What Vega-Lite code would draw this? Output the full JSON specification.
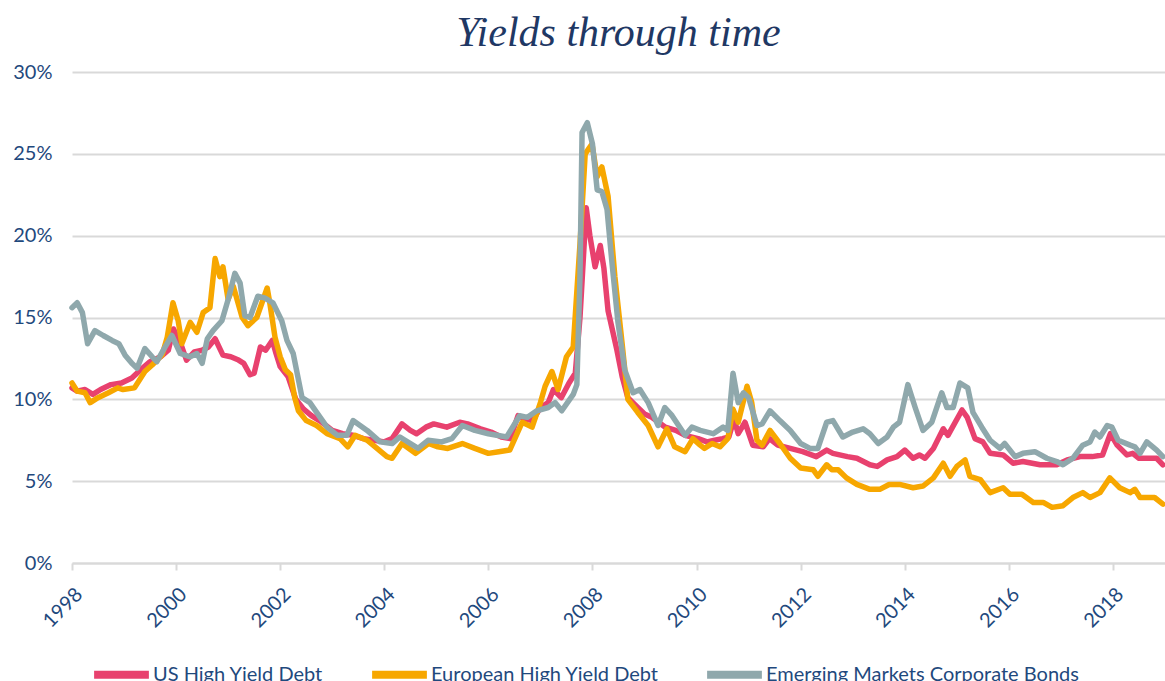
{
  "$schema": "https://vega.github.io/schema/vega-lite/v6.json",
  "width": 1093,
  "height": 491,
  "autosize": {"type": "none"},
  "padding": {"left": 72, "top": 72, "right": 0, "bottom": 118},
  "background": "white",
  "title": {"text": "Yields through time", "font": "Liberation Serif", "fontStyle": "italic", "fontSize": 42, "fontWeight": "normal", "color": "#1F3864", "anchor": "middle", "offset": 7},
  "config": {"view": {"stroke": null}, "font": "Lato"},
  "data": {"values": [
    {"date": 1998.0, "series": "US High Yield Debt", "yield": 10.7},
    {"date": 1998.1, "series": "US High Yield Debt", "yield": 10.5},
    {"date": 1998.25, "series": "US High Yield Debt", "yield": 10.6},
    {"date": 1998.4, "series": "US High Yield Debt", "yield": 10.3},
    {"date": 1998.55, "series": "US High Yield Debt", "yield": 10.6},
    {"date": 1998.75, "series": "US High Yield Debt", "yield": 10.9},
    {"date": 1998.95, "series": "US High Yield Debt", "yield": 11.0},
    {"date": 1999.15, "series": "US High Yield Debt", "yield": 11.3},
    {"date": 1999.35, "series": "US High Yield Debt", "yield": 11.9},
    {"date": 1999.5, "series": "US High Yield Debt", "yield": 12.3},
    {"date": 1999.7, "series": "US High Yield Debt", "yield": 12.6},
    {"date": 1999.85, "series": "US High Yield Debt", "yield": 13.0},
    {"date": 1999.95, "series": "US High Yield Debt", "yield": 14.3},
    {"date": 2000.1, "series": "US High Yield Debt", "yield": 13.3},
    {"date": 2000.2, "series": "US High Yield Debt", "yield": 12.4},
    {"date": 2000.35, "series": "US High Yield Debt", "yield": 12.9},
    {"date": 2000.5, "series": "US High Yield Debt", "yield": 13.0},
    {"date": 2000.62, "series": "US High Yield Debt", "yield": 13.2},
    {"date": 2000.75, "series": "US High Yield Debt", "yield": 13.7},
    {"date": 2000.9, "series": "US High Yield Debt", "yield": 12.7},
    {"date": 2001.05, "series": "US High Yield Debt", "yield": 12.6},
    {"date": 2001.2, "series": "US High Yield Debt", "yield": 12.4},
    {"date": 2001.3, "series": "US High Yield Debt", "yield": 12.2},
    {"date": 2001.42, "series": "US High Yield Debt", "yield": 11.5},
    {"date": 2001.5, "series": "US High Yield Debt", "yield": 11.6},
    {"date": 2001.62, "series": "US High Yield Debt", "yield": 13.2},
    {"date": 2001.72, "series": "US High Yield Debt", "yield": 13.0},
    {"date": 2001.85, "series": "US High Yield Debt", "yield": 13.6},
    {"date": 2001.92, "series": "US High Yield Debt", "yield": 12.8},
    {"date": 2002.0, "series": "US High Yield Debt", "yield": 12.0},
    {"date": 2002.15, "series": "US High Yield Debt", "yield": 11.4},
    {"date": 2002.3, "series": "US High Yield Debt", "yield": 10.0},
    {"date": 2002.45, "series": "US High Yield Debt", "yield": 9.4},
    {"date": 2002.6, "series": "US High Yield Debt", "yield": 9.0},
    {"date": 2002.8, "series": "US High Yield Debt", "yield": 8.6},
    {"date": 2003.0, "series": "US High Yield Debt", "yield": 8.1},
    {"date": 2003.2, "series": "US High Yield Debt", "yield": 7.9},
    {"date": 2003.4, "series": "US High Yield Debt", "yield": 7.8},
    {"date": 2003.6, "series": "US High Yield Debt", "yield": 7.6},
    {"date": 2003.8, "series": "US High Yield Debt", "yield": 7.5},
    {"date": 2004.0, "series": "US High Yield Debt", "yield": 7.4},
    {"date": 2004.15, "series": "US High Yield Debt", "yield": 7.6},
    {"date": 2004.34, "series": "US High Yield Debt", "yield": 8.5},
    {"date": 2004.5, "series": "US High Yield Debt", "yield": 8.1},
    {"date": 2004.62, "series": "US High Yield Debt", "yield": 7.9},
    {"date": 2004.8, "series": "US High Yield Debt", "yield": 8.3},
    {"date": 2004.95, "series": "US High Yield Debt", "yield": 8.5},
    {"date": 2005.2, "series": "US High Yield Debt", "yield": 8.3},
    {"date": 2005.45, "series": "US High Yield Debt", "yield": 8.6},
    {"date": 2005.6, "series": "US High Yield Debt", "yield": 8.5},
    {"date": 2005.85, "series": "US High Yield Debt", "yield": 8.2},
    {"date": 2006.05, "series": "US High Yield Debt", "yield": 8.0},
    {"date": 2006.25, "series": "US High Yield Debt", "yield": 7.7},
    {"date": 2006.42, "series": "US High Yield Debt", "yield": 7.6},
    {"date": 2006.57, "series": "US High Yield Debt", "yield": 9.0},
    {"date": 2006.7, "series": "US High Yield Debt", "yield": 8.8},
    {"date": 2006.85, "series": "US High Yield Debt", "yield": 8.7},
    {"date": 2007.0, "series": "US High Yield Debt", "yield": 9.5},
    {"date": 2007.15, "series": "US High Yield Debt", "yield": 9.8},
    {"date": 2007.25, "series": "US High Yield Debt", "yield": 10.6},
    {"date": 2007.4, "series": "US High Yield Debt", "yield": 10.1},
    {"date": 2007.55, "series": "US High Yield Debt", "yield": 11.0},
    {"date": 2007.67, "series": "US High Yield Debt", "yield": 11.6},
    {"date": 2007.76, "series": "US High Yield Debt", "yield": 15.0},
    {"date": 2007.88, "series": "US High Yield Debt", "yield": 21.7},
    {"date": 2007.95, "series": "US High Yield Debt", "yield": 20.0},
    {"date": 2008.05, "series": "US High Yield Debt", "yield": 18.1},
    {"date": 2008.15, "series": "US High Yield Debt", "yield": 19.4},
    {"date": 2008.22, "series": "US High Yield Debt", "yield": 18.0},
    {"date": 2008.3, "series": "US High Yield Debt", "yield": 15.4},
    {"date": 2008.4, "series": "US High Yield Debt", "yield": 14.0},
    {"date": 2008.47, "series": "US High Yield Debt", "yield": 13.0},
    {"date": 2008.57, "series": "US High Yield Debt", "yield": 11.4},
    {"date": 2008.68, "series": "US High Yield Debt", "yield": 10.1},
    {"date": 2008.87, "series": "US High Yield Debt", "yield": 9.5},
    {"date": 2009.0, "series": "US High Yield Debt", "yield": 9.1},
    {"date": 2009.14, "series": "US High Yield Debt", "yield": 8.9},
    {"date": 2009.4, "series": "US High Yield Debt", "yield": 8.3},
    {"date": 2009.6, "series": "US High Yield Debt", "yield": 8.1},
    {"date": 2009.78, "series": "US High Yield Debt", "yield": 7.8},
    {"date": 2010.03, "series": "US High Yield Debt", "yield": 7.6},
    {"date": 2010.2, "series": "US High Yield Debt", "yield": 7.4},
    {"date": 2010.35, "series": "US High Yield Debt", "yield": 7.5},
    {"date": 2010.5, "series": "US High Yield Debt", "yield": 7.6},
    {"date": 2010.62, "series": "US High Yield Debt", "yield": 7.7},
    {"date": 2010.72, "series": "US High Yield Debt", "yield": 8.8},
    {"date": 2010.8, "series": "US High Yield Debt", "yield": 7.9},
    {"date": 2010.93, "series": "US High Yield Debt", "yield": 8.6},
    {"date": 2011.08, "series": "US High Yield Debt", "yield": 7.2},
    {"date": 2011.28, "series": "US High Yield Debt", "yield": 7.1},
    {"date": 2011.4, "series": "US High Yield Debt", "yield": 7.6},
    {"date": 2011.56, "series": "US High Yield Debt", "yield": 7.2},
    {"date": 2011.8, "series": "US High Yield Debt", "yield": 7.0},
    {"date": 2012.04, "series": "US High Yield Debt", "yield": 6.8},
    {"date": 2012.3, "series": "US High Yield Debt", "yield": 6.5},
    {"date": 2012.5, "series": "US High Yield Debt", "yield": 6.9},
    {"date": 2012.62, "series": "US High Yield Debt", "yield": 6.7},
    {"date": 2012.9, "series": "US High Yield Debt", "yield": 6.5},
    {"date": 2013.08, "series": "US High Yield Debt", "yield": 6.4},
    {"date": 2013.33, "series": "US High Yield Debt", "yield": 6.0},
    {"date": 2013.47, "series": "US High Yield Debt", "yield": 5.9},
    {"date": 2013.66, "series": "US High Yield Debt", "yield": 6.3},
    {"date": 2013.85, "series": "US High Yield Debt", "yield": 6.5},
    {"date": 2014.0, "series": "US High Yield Debt", "yield": 6.9},
    {"date": 2014.16, "series": "US High Yield Debt", "yield": 6.4},
    {"date": 2014.28, "series": "US High Yield Debt", "yield": 6.6},
    {"date": 2014.39, "series": "US High Yield Debt", "yield": 6.4},
    {"date": 2014.55, "series": "US High Yield Debt", "yield": 7.0},
    {"date": 2014.74, "series": "US High Yield Debt", "yield": 8.2},
    {"date": 2014.83, "series": "US High Yield Debt", "yield": 7.8},
    {"date": 2015.1, "series": "US High Yield Debt", "yield": 9.35},
    {"date": 2015.2, "series": "US High Yield Debt", "yield": 8.9},
    {"date": 2015.35, "series": "US High Yield Debt", "yield": 7.6},
    {"date": 2015.5, "series": "US High Yield Debt", "yield": 7.4},
    {"date": 2015.64, "series": "US High Yield Debt", "yield": 6.7},
    {"date": 2015.89, "series": "US High Yield Debt", "yield": 6.6},
    {"date": 2016.08, "series": "US High Yield Debt", "yield": 6.1},
    {"date": 2016.27, "series": "US High Yield Debt", "yield": 6.2},
    {"date": 2016.6, "series": "US High Yield Debt", "yield": 6.0},
    {"date": 2016.92, "series": "US High Yield Debt", "yield": 6.0},
    {"date": 2017.12, "series": "US High Yield Debt", "yield": 6.3},
    {"date": 2017.37, "series": "US High Yield Debt", "yield": 6.5},
    {"date": 2017.6, "series": "US High Yield Debt", "yield": 6.5},
    {"date": 2017.8, "series": "US High Yield Debt", "yield": 6.6},
    {"date": 2017.95, "series": "US High Yield Debt", "yield": 7.9},
    {"date": 2018.08, "series": "US High Yield Debt", "yield": 7.2},
    {"date": 2018.27, "series": "US High Yield Debt", "yield": 6.6},
    {"date": 2018.38, "series": "US High Yield Debt", "yield": 6.7},
    {"date": 2018.5, "series": "US High Yield Debt", "yield": 6.4},
    {"date": 2018.84, "series": "US High Yield Debt", "yield": 6.4},
    {"date": 2018.96, "series": "US High Yield Debt", "yield": 6.0},

    {"date": 1998.0, "series": "European High Yield Debt", "yield": 11.0},
    {"date": 1998.1, "series": "European High Yield Debt", "yield": 10.5},
    {"date": 1998.25, "series": "European High Yield Debt", "yield": 10.4},
    {"date": 1998.35, "series": "European High Yield Debt", "yield": 9.8},
    {"date": 1998.5, "series": "European High Yield Debt", "yield": 10.1},
    {"date": 1998.7, "series": "European High Yield Debt", "yield": 10.4},
    {"date": 1998.88, "series": "European High Yield Debt", "yield": 10.7},
    {"date": 1998.98, "series": "European High Yield Debt", "yield": 10.6},
    {"date": 1999.2, "series": "European High Yield Debt", "yield": 10.7},
    {"date": 1999.4, "series": "European High Yield Debt", "yield": 11.7},
    {"date": 1999.54, "series": "European High Yield Debt", "yield": 12.1},
    {"date": 1999.73, "series": "European High Yield Debt", "yield": 12.7},
    {"date": 1999.83, "series": "European High Yield Debt", "yield": 13.8},
    {"date": 1999.94, "series": "European High Yield Debt", "yield": 15.9},
    {"date": 2000.04, "series": "European High Yield Debt", "yield": 14.8},
    {"date": 2000.11, "series": "European High Yield Debt", "yield": 13.4},
    {"date": 2000.27, "series": "European High Yield Debt", "yield": 14.7},
    {"date": 2000.4, "series": "European High Yield Debt", "yield": 14.1},
    {"date": 2000.52, "series": "European High Yield Debt", "yield": 15.3},
    {"date": 2000.65, "series": "European High Yield Debt", "yield": 15.6},
    {"date": 2000.75, "series": "European High Yield Debt", "yield": 18.6},
    {"date": 2000.84, "series": "European High Yield Debt", "yield": 17.5},
    {"date": 2000.9, "series": "European High Yield Debt", "yield": 18.1},
    {"date": 2001.0, "series": "European High Yield Debt", "yield": 16.1},
    {"date": 2001.1, "series": "European High Yield Debt", "yield": 16.9},
    {"date": 2001.27, "series": "European High Yield Debt", "yield": 15.0},
    {"date": 2001.38, "series": "European High Yield Debt", "yield": 14.5},
    {"date": 2001.55, "series": "European High Yield Debt", "yield": 15.0},
    {"date": 2001.65, "series": "European High Yield Debt", "yield": 15.9},
    {"date": 2001.75, "series": "European High Yield Debt", "yield": 16.8},
    {"date": 2001.8, "series": "European High Yield Debt", "yield": 15.9},
    {"date": 2001.9, "series": "European High Yield Debt", "yield": 13.8},
    {"date": 2002.0, "series": "European High Yield Debt", "yield": 12.6},
    {"date": 2002.1, "series": "European High Yield Debt", "yield": 11.8},
    {"date": 2002.2, "series": "European High Yield Debt", "yield": 11.5},
    {"date": 2002.28, "series": "European High Yield Debt", "yield": 10.1},
    {"date": 2002.35, "series": "European High Yield Debt", "yield": 9.3},
    {"date": 2002.5, "series": "European High Yield Debt", "yield": 8.7},
    {"date": 2002.7, "series": "European High Yield Debt", "yield": 8.4},
    {"date": 2002.9, "series": "European High Yield Debt", "yield": 7.9},
    {"date": 2003.15, "series": "European High Yield Debt", "yield": 7.6},
    {"date": 2003.3, "series": "European High Yield Debt", "yield": 7.1},
    {"date": 2003.44, "series": "European High Yield Debt", "yield": 7.8},
    {"date": 2003.67, "series": "European High Yield Debt", "yield": 7.5},
    {"date": 2003.86, "series": "European High Yield Debt", "yield": 7.0},
    {"date": 2004.05, "series": "European High Yield Debt", "yield": 6.5},
    {"date": 2004.15, "series": "European High Yield Debt", "yield": 6.4},
    {"date": 2004.34, "series": "European High Yield Debt", "yield": 7.3},
    {"date": 2004.6, "series": "European High Yield Debt", "yield": 6.7},
    {"date": 2004.85, "series": "European High Yield Debt", "yield": 7.3},
    {"date": 2005.03, "series": "European High Yield Debt", "yield": 7.1},
    {"date": 2005.22, "series": "European High Yield Debt", "yield": 7.0},
    {"date": 2005.5, "series": "European High Yield Debt", "yield": 7.3},
    {"date": 2005.74, "series": "European High Yield Debt", "yield": 7.0},
    {"date": 2006.0, "series": "European High Yield Debt", "yield": 6.7},
    {"date": 2006.2, "series": "European High Yield Debt", "yield": 6.8},
    {"date": 2006.41, "series": "European High Yield Debt", "yield": 6.9},
    {"date": 2006.65, "series": "European High Yield Debt", "yield": 8.6},
    {"date": 2006.84, "series": "European High Yield Debt", "yield": 8.3},
    {"date": 2007.0, "series": "European High Yield Debt", "yield": 9.8},
    {"date": 2007.09, "series": "European High Yield Debt", "yield": 10.8},
    {"date": 2007.22, "series": "European High Yield Debt", "yield": 11.7},
    {"date": 2007.34, "series": "European High Yield Debt", "yield": 10.6},
    {"date": 2007.5, "series": "European High Yield Debt", "yield": 12.6},
    {"date": 2007.63, "series": "European High Yield Debt", "yield": 13.2},
    {"date": 2007.76, "series": "European High Yield Debt", "yield": 19.5},
    {"date": 2007.86, "series": "European High Yield Debt", "yield": 25.0},
    {"date": 2007.99, "series": "European High Yield Debt", "yield": 25.6},
    {"date": 2008.09, "series": "European High Yield Debt", "yield": 23.6},
    {"date": 2008.18, "series": "European High Yield Debt", "yield": 24.2},
    {"date": 2008.3, "series": "European High Yield Debt", "yield": 22.4},
    {"date": 2008.43, "series": "European High Yield Debt", "yield": 17.5},
    {"date": 2008.57, "series": "European High Yield Debt", "yield": 13.4},
    {"date": 2008.68, "series": "European High Yield Debt", "yield": 10.0},
    {"date": 2008.87, "series": "European High Yield Debt", "yield": 9.2},
    {"date": 2009.07, "series": "European High Yield Debt", "yield": 8.4},
    {"date": 2009.26, "series": "European High Yield Debt", "yield": 7.1},
    {"date": 2009.43, "series": "European High Yield Debt", "yield": 8.2},
    {"date": 2009.58, "series": "European High Yield Debt", "yield": 7.1},
    {"date": 2009.78, "series": "European High Yield Debt", "yield": 6.8},
    {"date": 2009.93, "series": "European High Yield Debt", "yield": 7.6},
    {"date": 2010.07, "series": "European High Yield Debt", "yield": 7.2},
    {"date": 2010.15, "series": "European High Yield Debt", "yield": 7.0},
    {"date": 2010.3, "series": "European High Yield Debt", "yield": 7.3},
    {"date": 2010.45, "series": "European High Yield Debt", "yield": 7.1},
    {"date": 2010.6, "series": "European High Yield Debt", "yield": 7.6},
    {"date": 2010.7, "series": "European High Yield Debt", "yield": 9.4},
    {"date": 2010.8, "series": "European High Yield Debt", "yield": 8.6},
    {"date": 2010.97, "series": "European High Yield Debt", "yield": 10.8},
    {"date": 2011.06, "series": "European High Yield Debt", "yield": 9.8},
    {"date": 2011.16, "series": "European High Yield Debt", "yield": 7.5},
    {"date": 2011.26, "series": "European High Yield Debt", "yield": 7.2},
    {"date": 2011.41, "series": "European High Yield Debt", "yield": 8.1},
    {"date": 2011.6, "series": "European High Yield Debt", "yield": 7.3},
    {"date": 2011.8, "series": "European High Yield Debt", "yield": 6.4},
    {"date": 2012.0, "series": "European High Yield Debt", "yield": 5.8},
    {"date": 2012.24, "series": "European High Yield Debt", "yield": 5.7},
    {"date": 2012.33, "series": "European High Yield Debt", "yield": 5.3},
    {"date": 2012.5, "series": "European High Yield Debt", "yield": 6.0},
    {"date": 2012.6, "series": "European High Yield Debt", "yield": 5.7},
    {"date": 2012.72, "series": "European High Yield Debt", "yield": 5.7},
    {"date": 2012.88, "series": "European High Yield Debt", "yield": 5.2},
    {"date": 2013.08, "series": "European High Yield Debt", "yield": 4.8},
    {"date": 2013.33, "series": "European High Yield Debt", "yield": 4.5},
    {"date": 2013.52, "series": "European High Yield Debt", "yield": 4.5},
    {"date": 2013.7, "series": "European High Yield Debt", "yield": 4.8},
    {"date": 2013.9, "series": "European High Yield Debt", "yield": 4.8},
    {"date": 2014.16, "series": "European High Yield Debt", "yield": 4.6},
    {"date": 2014.35, "series": "European High Yield Debt", "yield": 4.7},
    {"date": 2014.55, "series": "European High Yield Debt", "yield": 5.2},
    {"date": 2014.74, "series": "European High Yield Debt", "yield": 6.1},
    {"date": 2014.87, "series": "European High Yield Debt", "yield": 5.3},
    {"date": 2015.0, "series": "European High Yield Debt", "yield": 5.9},
    {"date": 2015.16, "series": "European High Yield Debt", "yield": 6.3},
    {"date": 2015.25, "series": "European High Yield Debt", "yield": 5.3},
    {"date": 2015.45, "series": "European High Yield Debt", "yield": 5.1},
    {"date": 2015.64, "series": "European High Yield Debt", "yield": 4.3},
    {"date": 2015.89, "series": "European High Yield Debt", "yield": 4.6},
    {"date": 2016.02, "series": "European High Yield Debt", "yield": 4.2},
    {"date": 2016.25, "series": "European High Yield Debt", "yield": 4.2},
    {"date": 2016.47, "series": "European High Yield Debt", "yield": 3.7},
    {"date": 2016.66, "series": "European High Yield Debt", "yield": 3.7},
    {"date": 2016.83, "series": "European High Yield Debt", "yield": 3.4},
    {"date": 2017.04, "series": "European High Yield Debt", "yield": 3.5},
    {"date": 2017.23, "series": "European High Yield Debt", "yield": 4.0},
    {"date": 2017.42, "series": "European High Yield Debt", "yield": 4.3},
    {"date": 2017.56, "series": "European High Yield Debt", "yield": 4.0},
    {"date": 2017.75, "series": "European High Yield Debt", "yield": 4.3},
    {"date": 2017.94, "series": "European High Yield Debt", "yield": 5.2},
    {"date": 2018.13, "series": "European High Yield Debt", "yield": 4.6},
    {"date": 2018.33, "series": "European High Yield Debt", "yield": 4.3},
    {"date": 2018.42, "series": "European High Yield Debt", "yield": 4.5},
    {"date": 2018.52, "series": "European High Yield Debt", "yield": 4.0},
    {"date": 2018.8, "series": "European High Yield Debt", "yield": 4.0},
    {"date": 2018.96, "series": "European High Yield Debt", "yield": 3.6},

    {"date": 1998.0, "series": "Emerging Markets Corporate Bonds", "yield": 15.6},
    {"date": 1998.1, "series": "Emerging Markets Corporate Bonds", "yield": 15.9},
    {"date": 1998.2, "series": "Emerging Markets Corporate Bonds", "yield": 15.3},
    {"date": 1998.3, "series": "Emerging Markets Corporate Bonds", "yield": 13.4},
    {"date": 1998.44, "series": "Emerging Markets Corporate Bonds", "yield": 14.2},
    {"date": 1998.6, "series": "Emerging Markets Corporate Bonds", "yield": 13.9},
    {"date": 1998.77, "series": "Emerging Markets Corporate Bonds", "yield": 13.6},
    {"date": 1998.9, "series": "Emerging Markets Corporate Bonds", "yield": 13.4},
    {"date": 1999.02, "series": "Emerging Markets Corporate Bonds", "yield": 12.7},
    {"date": 1999.15, "series": "Emerging Markets Corporate Bonds", "yield": 12.2},
    {"date": 1999.25, "series": "Emerging Markets Corporate Bonds", "yield": 11.9},
    {"date": 1999.4, "series": "Emerging Markets Corporate Bonds", "yield": 13.1},
    {"date": 1999.54, "series": "Emerging Markets Corporate Bonds", "yield": 12.6},
    {"date": 1999.63, "series": "Emerging Markets Corporate Bonds", "yield": 12.3},
    {"date": 1999.79, "series": "Emerging Markets Corporate Bonds", "yield": 13.2},
    {"date": 1999.92, "series": "Emerging Markets Corporate Bonds", "yield": 13.9},
    {"date": 2000.08, "series": "Emerging Markets Corporate Bonds", "yield": 12.8},
    {"date": 2000.27, "series": "Emerging Markets Corporate Bonds", "yield": 12.6},
    {"date": 2000.4, "series": "Emerging Markets Corporate Bonds", "yield": 12.8},
    {"date": 2000.5, "series": "Emerging Markets Corporate Bonds", "yield": 12.2},
    {"date": 2000.6, "series": "Emerging Markets Corporate Bonds", "yield": 13.7},
    {"date": 2000.71, "series": "Emerging Markets Corporate Bonds", "yield": 14.2},
    {"date": 2000.88, "series": "Emerging Markets Corporate Bonds", "yield": 14.8},
    {"date": 2001.0, "series": "Emerging Markets Corporate Bonds", "yield": 16.1},
    {"date": 2001.13, "series": "Emerging Markets Corporate Bonds", "yield": 17.7},
    {"date": 2001.23, "series": "Emerging Markets Corporate Bonds", "yield": 17.1},
    {"date": 2001.32, "series": "Emerging Markets Corporate Bonds", "yield": 15.1},
    {"date": 2001.42, "series": "Emerging Markets Corporate Bonds", "yield": 15.0},
    {"date": 2001.57, "series": "Emerging Markets Corporate Bonds", "yield": 16.3},
    {"date": 2001.7, "series": "Emerging Markets Corporate Bonds", "yield": 16.2},
    {"date": 2001.86, "series": "Emerging Markets Corporate Bonds", "yield": 15.9},
    {"date": 2002.03, "series": "Emerging Markets Corporate Bonds", "yield": 14.8},
    {"date": 2002.13, "series": "Emerging Markets Corporate Bonds", "yield": 13.6},
    {"date": 2002.25, "series": "Emerging Markets Corporate Bonds", "yield": 12.8},
    {"date": 2002.42, "series": "Emerging Markets Corporate Bonds", "yield": 10.1},
    {"date": 2002.57, "series": "Emerging Markets Corporate Bonds", "yield": 9.8},
    {"date": 2002.7, "series": "Emerging Markets Corporate Bonds", "yield": 9.2},
    {"date": 2002.9, "series": "Emerging Markets Corporate Bonds", "yield": 8.3},
    {"date": 2003.1, "series": "Emerging Markets Corporate Bonds", "yield": 7.8},
    {"date": 2003.28, "series": "Emerging Markets Corporate Bonds", "yield": 7.8},
    {"date": 2003.4, "series": "Emerging Markets Corporate Bonds", "yield": 8.7},
    {"date": 2003.67, "series": "Emerging Markets Corporate Bonds", "yield": 8.1},
    {"date": 2003.92, "series": "Emerging Markets Corporate Bonds", "yield": 7.4},
    {"date": 2004.15, "series": "Emerging Markets Corporate Bonds", "yield": 7.3},
    {"date": 2004.3, "series": "Emerging Markets Corporate Bonds", "yield": 7.7},
    {"date": 2004.4, "series": "Emerging Markets Corporate Bonds", "yield": 7.5},
    {"date": 2004.65, "series": "Emerging Markets Corporate Bonds", "yield": 7.0},
    {"date": 2004.84, "series": "Emerging Markets Corporate Bonds", "yield": 7.5},
    {"date": 2005.1, "series": "Emerging Markets Corporate Bonds", "yield": 7.4},
    {"date": 2005.3, "series": "Emerging Markets Corporate Bonds", "yield": 7.6},
    {"date": 2005.5, "series": "Emerging Markets Corporate Bonds", "yield": 8.4},
    {"date": 2005.74, "series": "Emerging Markets Corporate Bonds", "yield": 8.1},
    {"date": 2006.0, "series": "Emerging Markets Corporate Bonds", "yield": 7.9},
    {"date": 2006.35, "series": "Emerging Markets Corporate Bonds", "yield": 7.7},
    {"date": 2006.6, "series": "Emerging Markets Corporate Bonds", "yield": 9.0},
    {"date": 2006.75, "series": "Emerging Markets Corporate Bonds", "yield": 8.9},
    {"date": 2006.93, "series": "Emerging Markets Corporate Bonds", "yield": 9.3},
    {"date": 2007.15, "series": "Emerging Markets Corporate Bonds", "yield": 9.5},
    {"date": 2007.28, "series": "Emerging Markets Corporate Bonds", "yield": 9.8},
    {"date": 2007.41, "series": "Emerging Markets Corporate Bonds", "yield": 9.3},
    {"date": 2007.63, "series": "Emerging Markets Corporate Bonds", "yield": 10.3},
    {"date": 2007.7, "series": "Emerging Markets Corporate Bonds", "yield": 10.9},
    {"date": 2007.76, "series": "Emerging Markets Corporate Bonds", "yield": 17.5},
    {"date": 2007.8, "series": "Emerging Markets Corporate Bonds", "yield": 26.3},
    {"date": 2007.9, "series": "Emerging Markets Corporate Bonds", "yield": 26.9},
    {"date": 2008.0, "series": "Emerging Markets Corporate Bonds", "yield": 25.6},
    {"date": 2008.09, "series": "Emerging Markets Corporate Bonds", "yield": 22.8},
    {"date": 2008.18, "series": "Emerging Markets Corporate Bonds", "yield": 22.7},
    {"date": 2008.28, "series": "Emerging Markets Corporate Bonds", "yield": 21.6},
    {"date": 2008.37, "series": "Emerging Markets Corporate Bonds", "yield": 18.5},
    {"date": 2008.49, "series": "Emerging Markets Corporate Bonds", "yield": 14.7},
    {"date": 2008.62, "series": "Emerging Markets Corporate Bonds", "yield": 11.8},
    {"date": 2008.78, "series": "Emerging Markets Corporate Bonds", "yield": 10.4},
    {"date": 2008.91, "series": "Emerging Markets Corporate Bonds", "yield": 10.6},
    {"date": 2009.07, "series": "Emerging Markets Corporate Bonds", "yield": 9.8},
    {"date": 2009.26, "series": "Emerging Markets Corporate Bonds", "yield": 8.4},
    {"date": 2009.39, "series": "Emerging Markets Corporate Bonds", "yield": 9.5},
    {"date": 2009.53, "series": "Emerging Markets Corporate Bonds", "yield": 9.0},
    {"date": 2009.78, "series": "Emerging Markets Corporate Bonds", "yield": 7.8},
    {"date": 2009.91, "series": "Emerging Markets Corporate Bonds", "yield": 8.3},
    {"date": 2010.07, "series": "Emerging Markets Corporate Bonds", "yield": 8.1},
    {"date": 2010.32, "series": "Emerging Markets Corporate Bonds", "yield": 7.9},
    {"date": 2010.51, "series": "Emerging Markets Corporate Bonds", "yield": 8.3},
    {"date": 2010.6, "series": "Emerging Markets Corporate Bonds", "yield": 8.1},
    {"date": 2010.7, "series": "Emerging Markets Corporate Bonds", "yield": 11.6},
    {"date": 2010.8, "series": "Emerging Markets Corporate Bonds", "yield": 9.8},
    {"date": 2010.9, "series": "Emerging Markets Corporate Bonds", "yield": 10.4},
    {"date": 2011.0, "series": "Emerging Markets Corporate Bonds", "yield": 10.1},
    {"date": 2011.16, "series": "Emerging Markets Corporate Bonds", "yield": 8.4},
    {"date": 2011.26, "series": "Emerging Markets Corporate Bonds", "yield": 8.5},
    {"date": 2011.41, "series": "Emerging Markets Corporate Bonds", "yield": 9.3},
    {"date": 2011.6, "series": "Emerging Markets Corporate Bonds", "yield": 8.7},
    {"date": 2011.8, "series": "Emerging Markets Corporate Bonds", "yield": 8.1},
    {"date": 2012.0, "series": "Emerging Markets Corporate Bonds", "yield": 7.3},
    {"date": 2012.18, "series": "Emerging Markets Corporate Bonds", "yield": 7.0},
    {"date": 2012.33, "series": "Emerging Markets Corporate Bonds", "yield": 7.0},
    {"date": 2012.5, "series": "Emerging Markets Corporate Bonds", "yield": 8.6},
    {"date": 2012.62, "series": "Emerging Markets Corporate Bonds", "yield": 8.7},
    {"date": 2012.81, "series": "Emerging Markets Corporate Bonds", "yield": 7.7},
    {"date": 2013.0, "series": "Emerging Markets Corporate Bonds", "yield": 8.0},
    {"date": 2013.2, "series": "Emerging Markets Corporate Bonds", "yield": 8.2},
    {"date": 2013.33, "series": "Emerging Markets Corporate Bonds", "yield": 7.9},
    {"date": 2013.49, "series": "Emerging Markets Corporate Bonds", "yield": 7.3},
    {"date": 2013.66, "series": "Emerging Markets Corporate Bonds", "yield": 7.7},
    {"date": 2013.78, "series": "Emerging Markets Corporate Bonds", "yield": 8.3},
    {"date": 2013.9, "series": "Emerging Markets Corporate Bonds", "yield": 8.6},
    {"date": 2014.06, "series": "Emerging Markets Corporate Bonds", "yield": 10.9},
    {"date": 2014.2, "series": "Emerging Markets Corporate Bonds", "yield": 9.5},
    {"date": 2014.35, "series": "Emerging Markets Corporate Bonds", "yield": 8.1},
    {"date": 2014.52, "series": "Emerging Markets Corporate Bonds", "yield": 8.6},
    {"date": 2014.71, "series": "Emerging Markets Corporate Bonds", "yield": 10.4},
    {"date": 2014.81, "series": "Emerging Markets Corporate Bonds", "yield": 9.5},
    {"date": 2014.93, "series": "Emerging Markets Corporate Bonds", "yield": 9.5},
    {"date": 2015.06, "series": "Emerging Markets Corporate Bonds", "yield": 11.0},
    {"date": 2015.21, "series": "Emerging Markets Corporate Bonds", "yield": 10.7},
    {"date": 2015.31, "series": "Emerging Markets Corporate Bonds", "yield": 9.2},
    {"date": 2015.48, "series": "Emerging Markets Corporate Bonds", "yield": 8.3},
    {"date": 2015.64, "series": "Emerging Markets Corporate Bonds", "yield": 7.5},
    {"date": 2015.83, "series": "Emerging Markets Corporate Bonds", "yield": 7.0},
    {"date": 2015.92, "series": "Emerging Markets Corporate Bonds", "yield": 7.3},
    {"date": 2016.12, "series": "Emerging Markets Corporate Bonds", "yield": 6.5},
    {"date": 2016.27, "series": "Emerging Markets Corporate Bonds", "yield": 6.7},
    {"date": 2016.5, "series": "Emerging Markets Corporate Bonds", "yield": 6.8},
    {"date": 2016.73, "series": "Emerging Markets Corporate Bonds", "yield": 6.4},
    {"date": 2016.92, "series": "Emerging Markets Corporate Bonds", "yield": 6.2},
    {"date": 2017.04, "series": "Emerging Markets Corporate Bonds", "yield": 6.0},
    {"date": 2017.23, "series": "Emerging Markets Corporate Bonds", "yield": 6.4},
    {"date": 2017.42, "series": "Emerging Markets Corporate Bonds", "yield": 7.2},
    {"date": 2017.56, "series": "Emerging Markets Corporate Bonds", "yield": 7.4},
    {"date": 2017.65, "series": "Emerging Markets Corporate Bonds", "yield": 8.0},
    {"date": 2017.75, "series": "Emerging Markets Corporate Bonds", "yield": 7.7},
    {"date": 2017.89, "series": "Emerging Markets Corporate Bonds", "yield": 8.4},
    {"date": 2017.98, "series": "Emerging Markets Corporate Bonds", "yield": 8.3},
    {"date": 2018.1, "series": "Emerging Markets Corporate Bonds", "yield": 7.5},
    {"date": 2018.33, "series": "Emerging Markets Corporate Bonds", "yield": 7.2},
    {"date": 2018.42, "series": "Emerging Markets Corporate Bonds", "yield": 7.1},
    {"date": 2018.52, "series": "Emerging Markets Corporate Bonds", "yield": 6.7},
    {"date": 2018.65, "series": "Emerging Markets Corporate Bonds", "yield": 7.4},
    {"date": 2018.84, "series": "Emerging Markets Corporate Bonds", "yield": 6.9},
    {"date": 2018.96, "series": "Emerging Markets Corporate Bonds", "yield": 6.5}
  ]},
  "mark": {"type": "line", "strokeWidth": 5.5, "strokeJoin": "round", "strokeCap": "round"},
  "encoding": {
    "x": {
      "field": "date", "type": "quantitative",
      "scale": {"domain": [1998, 2019], "nice": false, "zero": false},
      "axis": {"values": [1998, 2000, 2002, 2004, 2006, 2008, 2010, 2012, 2014, 2016, 2018], "format": "d", "labelAngle": -45, "labelFont": "Lato", "labelFontSize": 20, "labelColor": "#1F497D", "domainColor": "#d9d9d9", "domainWidth": 2, "tickColor": "#d9d9d9", "tickWidth": 2, "tickSize": 7, "grid": false, "title": null, "labelPadding": 14, "labelDx": 5}
    },
    "y": {
      "field": "yield", "type": "quantitative",
      "scale": {"domain": [0, 30], "nice": false},
      "axis": {"values": [0, 5, 10, 15, 20, 25, 30], "labelExpr": "datum.value + '%'", "labelFont": "Lato", "labelFontSize": 20, "labelColor": "#1F497D", "domain": false, "ticks": false, "grid": true, "gridColor": "#d9d9d9", "gridWidth": 2, "labelPadding": 20, "title": null}
    },
    "color": {
      "field": "series", "type": "nominal", "sort": null,
      "scale": {"domain": ["US High Yield Debt", "European High Yield Debt", "Emerging Markets Corporate Bonds"], "range": ["#E8416E", "#F7A700", "#8FA8AC"]},
      "legend": {"orient": "none", "legendX": 18, "legendY": 571, "direction": "horizontal", "title": null, "symbolType": "stroke", "symbolStrokeWidth": 8, "symbolSize": 3000, "labelFont": "Lato", "labelFontSize": 20, "labelColor": "#1F497D", "labelLimit": 0, "columnPadding": 32, "padding": 0, "labelOffset": 0}
    }
  }
}
